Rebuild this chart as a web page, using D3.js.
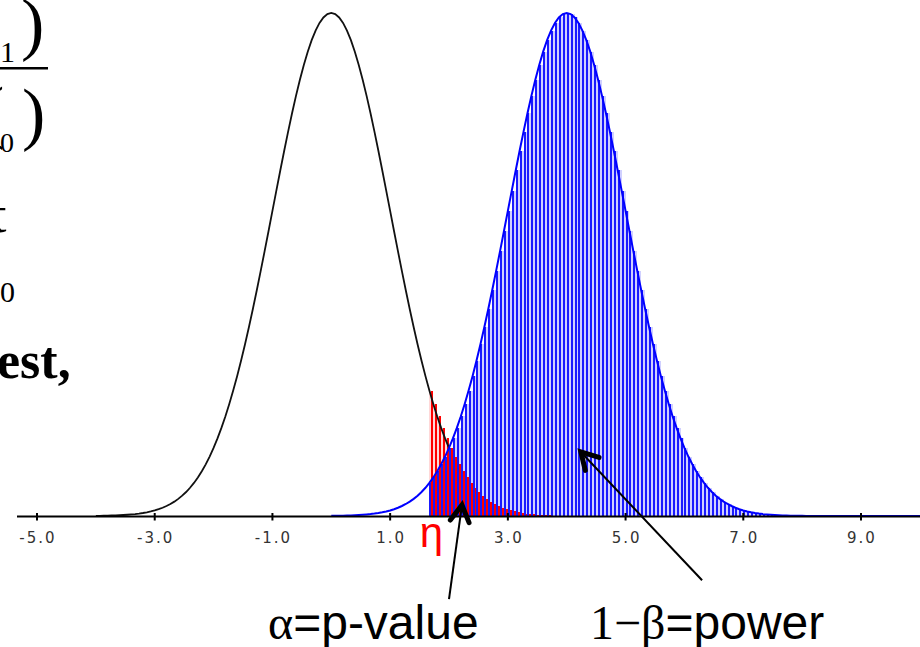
<!DOCTYPE html>
<html><head><meta charset="utf-8">
<script src="https://cdn.jsdelivr.net/npm/d3@7"></script>
<style>html,body{margin:0;padding:0;background:#fff;}svg{display:block;}</style>
</head><body>
<svg id="chart" width="920" height="647"></svg>
<script>
// standard density height read at offsets j/15 from each mean (j = 0..60)
const halfDensity = [0.39894,0.39806,0.39541,0.39104,0.38501,0.37738,0.36827,0.35778,0.34606,0.33322,
0.31945,0.30489,0.28969,0.27404,0.25808,0.24197,0.22586,0.20989,0.19419,0.17886,
0.16401,0.14973,0.13608,0.12313,0.11092,0.09948,0.08882,0.07895,0.06987,0.06156,
0.05399,0.04715,0.04099,0.03547,0.03057,0.02622,0.02239,0.01904,0.01612,0.01358,
0.01140,0.00952,0.00792,0.00655,0.00540,0.00443,0.00362,0.00295,0.00238,0.00192,
0.00154,0.00123,0.00098,0.00078,0.00061,0.00048,0.00038,0.00029,0.00023,0.00017,0.00013];
const gridStep = 1/15;
const nullMean = 0;
const altMean = 4;
const etaValue = 1.667;
const tickValues = [-5,-3,-1,1,3,5,7,9];
const tickLabels = ["-5.0","-3.0","-1.0","1.0","3.0","5.0","7.0","9.0"];

const svg = d3.select("#chart");
const x = d3.scaleLinear().domain([-5, 9]).range([37, 861]);
const y = d3.scaleLinear().domain([0, 0.39894]).range([516, 13]);

function dens(j){ const a = Math.abs(j); return a < halfDensity.length ? halfDensity[a] : 0; }
const nullK = Math.round(nullMean/gridStep), altK = Math.round(altMean/gridStep);
const etaK = Math.round(etaValue/gridStep);

const nullCurve = d3.range(-60, 31).map(k => ({x:k*gridStep, d:dens(k-nullK)}));
const altCurve = d3.range(0, 156).map(k => ({x:k*gridStep, d:dens(k-altK)}));
const bins = d3.range(etaK, 132).map(k => ({k, x0:k*gridStep, x1:(k+1)*gridStep, red:dens(k-nullK), blue:dens(k-altK)}));

const gBars = svg.append("g").attr("shape-rendering","crispEdges");
bins.forEach(b => {
  const a = Math.round(x(b.x0)), c = Math.round(x(b.x1));
  const hr = y(0) - y(b.red), hb = y(0) - y(b.blue);
  if (hr > 0.3) gBars.append("rect").attr("x",a).attr("width",c-a).attr("y",y(b.red)).attr("height",hr).attr("fill","#ffd8d8");
  if (hb > 0.3) gBars.append("rect").attr("x",a).attr("width",c-a).attr("y",y(b.blue)).attr("height",hb).attr("fill","#d0d0ff");
  if (hr > 0.3) gBars.append("rect").attr("x",a+2).attr("width",c-a-2).attr("y",y(b.red)).attr("height",hr).attr("fill","#ff0000");
  if (hb > 0.3) gBars.append("rect").attr("x",a).attr("width",2).attr("y",y(b.blue)).attr("height",hb).attr("fill","#1a1aff");
});

const line = d3.line().x(d => x(d.x)).y(d => y(d.d));
svg.append("path").datum(nullCurve).attr("d", line).attr("fill","none").attr("stroke","#111").attr("stroke-width",1.8);
svg.append("path").datum(altCurve).attr("d", line).attr("fill","none").attr("stroke","#0000ff").attr("stroke-width",2);

// axis
const axisY = y(0) + 0.5;
svg.append("line").attr("x1",17).attr("x2",920).attr("y1",axisY).attr("y2",axisY).attr("stroke","#000").attr("stroke-width",2);
const ticks = svg.append("g");
tickValues.forEach((v,i) => {
  ticks.append("line").attr("x1",x(v)).attr("x2",x(v)).attr("y1",axisY-3.5).attr("y2",axisY+4).attr("stroke","#000").attr("stroke-width",2);
  ticks.append("text").attr("x",x(v)+1).attr("y",543).attr("text-anchor","middle")
    .attr("font-family","DejaVu Sans").attr("font-size",15).attr("letter-spacing","2px").attr("fill","#333").text(tickLabels[i]);
});

// eta label
svg.append("text").attr("x",x(etaValue)+2).attr("y",547).attr("text-anchor","middle")
  .attr("font-family","Liberation Sans").attr("font-size",42).attr("fill","#ff0000").text("η");

// arrows
function arrow(tip, tail){
  const tx = x(tip[0]), ty = y(tip[1]), sx = x(tail[0]), sy = y(tail[1]);
  svg.append("line").attr("x1",sx).attr("y1",sy).attr("x2",tx).attr("y2",ty).attr("stroke","#000").attr("stroke-width",2);
  const ang = Math.atan2(sy-ty, sx-tx), L = 19, sp = 0.52;
  const p1 = [tx + L*Math.cos(ang+sp), ty + L*Math.sin(ang+sp)];
  const p2 = [tx + L*Math.cos(ang-sp), ty + L*Math.sin(ang-sp)];
  svg.append("path").attr("d",`M${p1[0]},${p1[1]}L${tx},${ty}L${p2[0]},${p2[1]}`)
    .attr("fill","none").attr("stroke","#000").attr("stroke-width",5).attr("stroke-linejoin","miter").attr("stroke-linecap","round");
}
arrow([2.22, 0.0087],[2.0, -0.066]);
arrow([4.24, 0.0508],[6.30, -0.051]);

// bottom labels
const t1 = svg.append("text").attr("x",268).attr("y",639).attr("font-size",48).attr("fill","#000");
t1.append("tspan").attr("font-family","Liberation Serif").text("α");
t1.append("tspan").attr("font-family","Liberation Sans").text("=p-value");
const t2 = svg.append("text").attr("x",590).attr("y",639).attr("font-size",48).attr("fill","#000");
t2.append("tspan").attr("font-family","Liberation Serif").text("1−β");
t2.append("tspan").attr("font-family","Liberation Sans").text("=power");

// left formula fragments (cropped at the page edge)
const serif = "Liberation Serif";
svg.append("text").attr("x",0).attr("y",62).attr("font-family",serif).attr("font-size",30).text("1");
svg.append("text").attr("x",21).attr("y",47).attr("font-family",serif).attr("font-size",70).text(")");
svg.append("rect").attr("x",0).attr("y",67).attr("width",48).attr("height",2.5).attr("fill","#000");
svg.append("text").attr("x",-19).attr("y",135).attr("font-family",serif).attr("font-size",70).text("(");
svg.append("text").attr("x",0).attr("y",152).attr("font-family",serif).attr("font-size",28).text("0");
svg.append("text").attr("x",22).attr("y",137).attr("font-family",serif).attr("font-size",70).text(")");
svg.append("text").attr("x",-8).attr("y",232).attr("font-family",serif).attr("font-size",52).text("t");
svg.append("text").attr("x",0).attr("y",302).attr("font-family",serif).attr("font-size",30).text("0");
svg.append("text").attr("x",-3).attr("y",378).attr("font-family",serif).attr("font-size",52).attr("font-weight","bold").text("est,");
</script>
</body></html>
